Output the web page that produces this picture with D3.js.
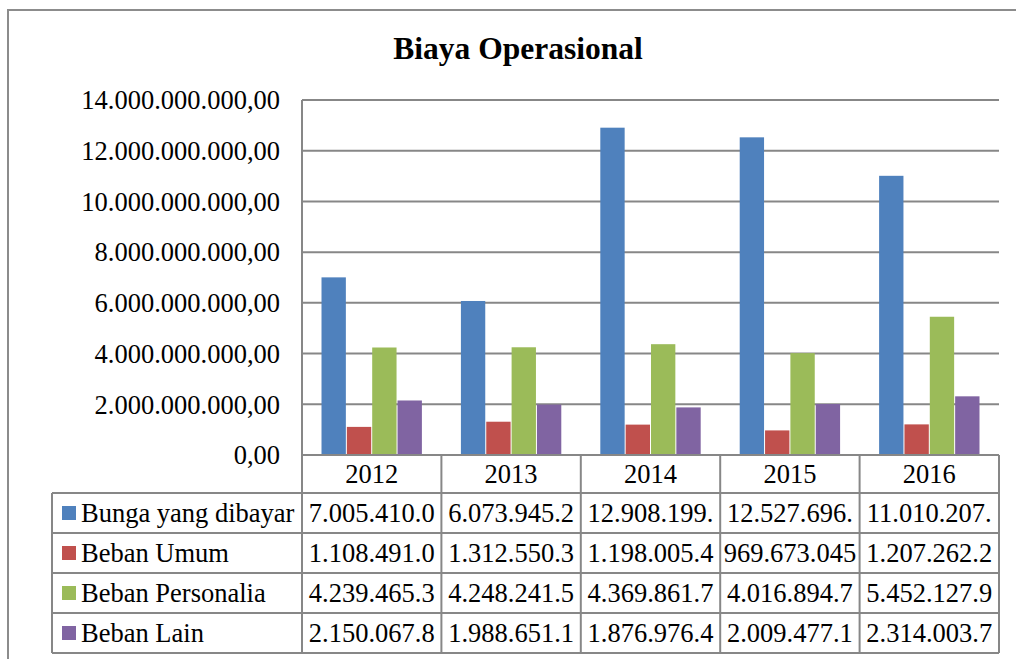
<!DOCTYPE html>
<html>
<head>
<meta charset="utf-8">
<script src="https://cdn.jsdelivr.net/npm/d3@7"></script>
<style>
  body { margin: 0; background: #fff; }
  svg { display: block; font-family: "Liberation Serif", "Times New Roman", serif; }
</style>
</head>
<body>
<div id="chart"></div>
<script>
// data
var years = ["2012", "2013", "2014", "2015", "2016"];
var seriesNames = ["Bunga yang dibayar", "Beban Umum", "Beban Personalia", "Beban Lain"];
var seriesColors = ["#4F81BD", "#C0504D", "#9BBB59", "#8064A2"];
var bunga = [7005410000, 6073945200, 12908199000, 12527696000, 11010207000];
var umum = [1108491000, 1312550300, 1198005400, 969673045, 1207262200];
var personalia = [4239465300, 4248241500, 4369861700, 4016894700, 5452127900];
var lain = [2150067800, 1988651100, 1876976400, 2009477100, 2314003700];
var yTicks = [0, 2e9, 4e9, 6e9, 8e9, 10e9, 12e9, 14e9];

var allSeries = [bunga, umum, personalia, lain];

var W = 1016, H = 659;
var plotLeft = 302, plotRight = 999, plotTop = 100, plotBottom = 455;
var headerH = 38, rowH = 40, tableLeft = 52;
var gridColor = "#878787";
var fontSize = 26.5;

var idLocale = d3.formatLocale({ decimal: ",", thousands: ".", grouping: [3], currency: ["Rp", ""] });
var fmt = idLocale.format(",.2f");

var svg = d3.select("#chart").append("svg")
  .attr("width", W)
  .attr("height", H);

// outer frame (cut off at right and bottom)
svg.append("rect")
  .attr("x", 8).attr("y", 10)
  .attr("width", 1100).attr("height", 700)
  .attr("fill", "#fff")
  .attr("stroke", "#8c8c8c")
  .attr("stroke-width", 2);

svg.append("text")
  .attr("x", 518).attr("y", 59)
  .attr("text-anchor", "middle")
  .attr("font-size", 31.5)
  .attr("font-weight", "bold")
  .text("Biaya Operasional");

var x0 = d3.scaleBand().domain(years).range([plotLeft, plotRight]).paddingInner(0);
var groupW = x0.bandwidth() * 4 / 5.5;
var x1 = d3.scaleBand().domain(d3.range(seriesNames.length)).range([0, groupW]);
var y = d3.scaleLinear().domain([0, 14e9]).range([plotBottom, plotTop]);

// gridlines
svg.append("g").selectAll("line")
  .data(yTicks.filter(function(d) { return d > 0; }))
  .join("line")
  .attr("x1", plotLeft).attr("x2", plotRight)
  .attr("y1", function(d) { return y(d); })
  .attr("y2", function(d) { return y(d); })
  .attr("stroke", gridColor)
  .attr("stroke-width", 2);

// y labels
svg.append("g").selectAll("text")
  .data(yTicks)
  .join("text")
  .attr("x", 280)
  .attr("y", function(d) { return y(d); })
  .attr("dy", "0.35em")
  .attr("text-anchor", "end")
  .attr("font-size", fontSize)
  .text(function(d) { return fmt(d); });

// bars
var groups = svg.append("g").selectAll("g")
  .data(years)
  .join("g")
  .attr("transform", function(d) { return "translate(" + (x0(d) + (x0.bandwidth() - groupW) / 2) + ",0)"; });

groups.selectAll("rect")
  .data(function(d, i) { return allSeries.map(function(s, k) { return { k: k, v: s[i] }; }); })
  .join("rect")
  .attr("x", function(d) { return x1(d.k) + 0.5; })
  .attr("width", x1.bandwidth() - 1)
  .attr("y", function(d) { return y(d.v); })
  .attr("height", function(d) { return plotBottom - y(d.v); })
  .attr("fill", function(d) { return seriesColors[d.k]; });

// data table
var table = svg.append("g");
var rowsTop = plotBottom + headerH;

// header row (years)
table.selectAll("text.year")
  .data(years)
  .join("text")
  .attr("class", "year")
  .attr("x", function(d) { return x0(d) + x0.bandwidth() / 2; })
  .attr("y", plotBottom + headerH / 2)
  .attr("dy", "0.35em")
  .attr("text-anchor", "middle")
  .attr("font-size", fontSize)
  .text(function(d) { return d; });

// legend column
seriesNames.forEach(function(name, k) {
  var cy = rowsTop + k * rowH + rowH / 2;
  table.append("rect")
    .attr("x", 62).attr("y", cy - 7)
    .attr("width", 14).attr("height", 14)
    .attr("fill", seriesColors[k]);
  table.append("text")
    .attr("x", 81).attr("y", cy)
    .attr("dy", "0.35em")
    .attr("font-size", fontSize)
    .text(name);

  years.forEach(function(yr, i) {
    var t = table.append("text")
      .attr("x", x0(yr) + x0.bandwidth() / 2)
      .attr("y", cy)
      .attr("dy", "0.35em")
      .attr("text-anchor", "middle")
      .attr("font-size", fontSize);
    // cut the label so it fits in the cell, like the spreadsheet does
    var s = fmt(allSeries[k][i]);
    t.text(s);
    while (s.length > 1 && t.node().getComputedTextLength() > x0.bandwidth() - 4) {
      s = s.slice(0, -1);
      t.text(s);
    }
  });
});

// table borders
var lineAttr = function(sel) { return sel.attr("stroke", gridColor).attr("stroke-width", 2).attr("fill", "none"); };
var tableBottom = rowsTop + rowH * seriesNames.length;

// vertical lines: axis/left column line and category separators
lineAttr(table.append("line").attr("x1", plotLeft).attr("x2", plotLeft).attr("y1", plotTop).attr("y2", tableBottom));
years.forEach(function(yr) {
  var xe = x0(yr) + x0.bandwidth();
  lineAttr(table.append("line").attr("x1", xe).attr("x2", xe).attr("y1", plotBottom).attr("y2", tableBottom));
});
lineAttr(table.append("line").attr("x1", tableLeft).attr("x2", tableLeft).attr("y1", rowsTop).attr("y2", tableBottom));

// horizontal lines
lineAttr(table.append("line").attr("x1", plotLeft).attr("x2", plotRight).attr("y1", plotBottom).attr("y2", plotBottom));
d3.range(seriesNames.length + 1).forEach(function(r) {
  var yy = rowsTop + r * rowH;
  lineAttr(table.append("line").attr("x1", tableLeft).attr("x2", plotRight).attr("y1", yy).attr("y2", yy));
});
</script>
</body>
</html>
